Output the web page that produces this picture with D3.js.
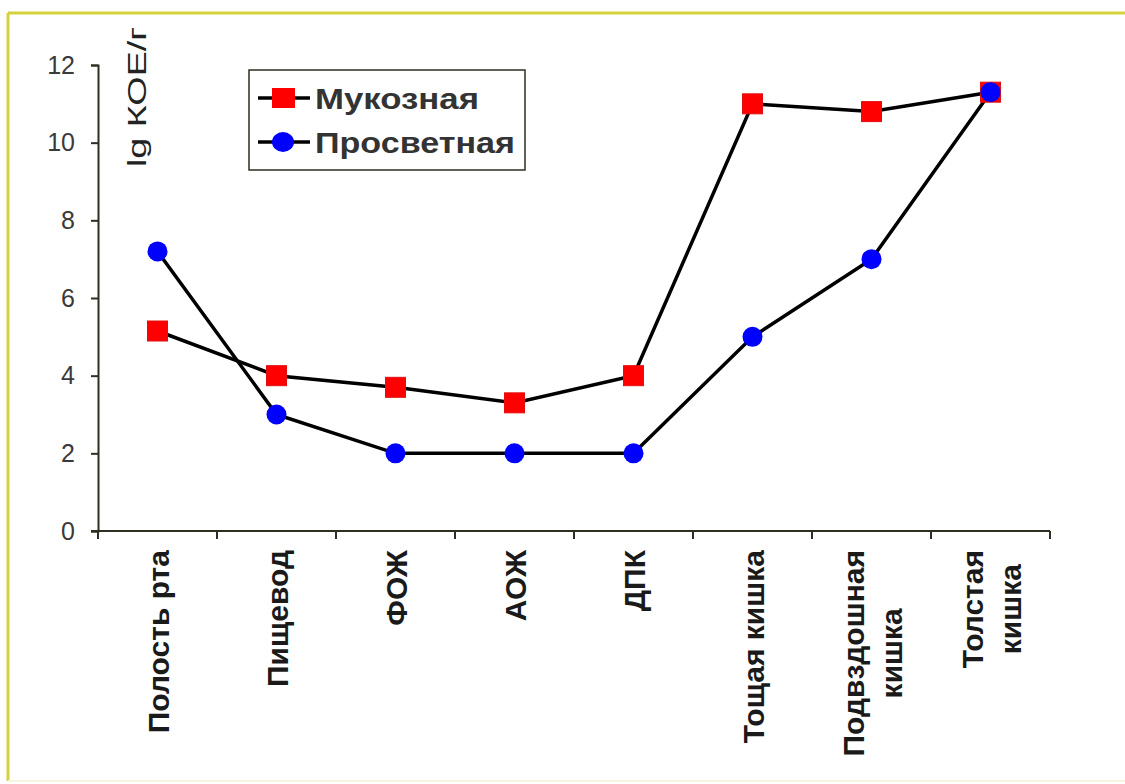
<!DOCTYPE html>
<html>
<head>
<meta charset="utf-8">
<script src="https://cdn.jsdelivr.net/npm/d3@7/dist/d3.min.js"></script>
<style>
  body { margin: 0; background: #fff; }
  text { font-family: "Liberation Sans", Arial, sans-serif; }
</style>
</head>
<body>
<script>
var width = 1125, height = 784;

// data
var categories = [["Полость рта"], ["Пищевод"], ["ФОЖ"], ["АОЖ"], ["ДПК"],
                  ["Тощая кишка"], ["Подвздошная", "кишка"], ["Толстая", "кишка"]];
var mucosal = [5.15, 4.0, 3.7, 3.3, 4.0, 11.0, 10.8, 11.3];
var luminal = [7.2, 3.0, 2.0, 2.0, 2.0, 5.0, 7.0, 11.3];
var yTicks = [0, 2, 4, 6, 8, 10, 12];
var seriesNames = ["Мукозная", "Просветная"];

var svg = d3.select("body").append("svg")
    .attr("width", width)
    .attr("height", height);

// frame
svg.append("rect").attr("x", 0).attr("y", 0).attr("width", width).attr("height", height).attr("fill", "#fff");
svg.append("line").attr("x1", 8).attr("x2", width).attr("y1", 13).attr("y2", 13)
    .attr("stroke", "#d6d23c").attr("stroke-width", 3);
svg.append("line").attr("x1", 8).attr("x2", 8).attr("y1", 13).attr("y2", 781)
    .attr("stroke", "#d6d23c").attr("stroke-width", 3);
svg.append("line").attr("x1", 8).attr("x2", width).attr("y1", 781).attr("y2", 781)
    .attr("stroke", "#f6f4dc").attr("stroke-width", 2);

var x0 = 98, x1 = 1050, yTop = 65, yBot = 531;
var axisColor = "#2e2e22";

var x = d3.scaleBand().domain(d3.range(categories.length)).range([x0, x1]);
var y = d3.scaleLinear().domain([0, 12]).range([yBot, yTop]);

// y axis
var yAxis = svg.append("g").attr("transform", "translate(" + x0 + ",0)")
    .call(d3.axisLeft(y).tickValues(yTicks).tickSize(7).tickPadding(16));
yAxis.select(".domain").attr("stroke", axisColor).attr("stroke-width", 2);
yAxis.selectAll(".tick line").attr("stroke", axisColor).attr("stroke-width", 2);
yAxis.selectAll(".tick text").attr("fill", "#3a3a3a")
    .style("font-size", "25px").style("font-family", "Liberation Sans, Arial, sans-serif");

// x axis
var xAxis = svg.append("g").attr("transform", "translate(0," + yBot + ")");
xAxis.append("line").attr("x1", x0 - 7).attr("x2", x1).attr("y1", 0).attr("y2", 0)
    .attr("stroke", axisColor).attr("stroke-width", 2);
xAxis.selectAll("line.tk").data(d3.range(categories.length + 1)).enter().append("line")
    .attr("class", "tk")
    .attr("x1", function(i) { return x0 + i * x.step(); })
    .attr("x2", function(i) { return x0 + i * x.step(); })
    .attr("y1", 0).attr("y2", 8)
    .attr("stroke", axisColor).attr("stroke-width", 2);

// category labels (rotated, multi-line blocks top aligned, lines centered)
var lineGap = 38;
categories.forEach(function(lines, i) {
    var cx = x(i) + x.bandwidth() / 2;
    var n = lines.length;
    var g = svg.append("g").attr("transform", "translate(" + cx + "," + 550 + ") rotate(-90)");
    var t = g.append("text").attr("fill", "#1a1a1a").style("font-size", "30px").style("font-weight", "bold");
    lines.forEach(function(s, j) {
        var dy = (j - (n - 1) / 2) * lineGap;
        t.append("tspan").attr("x", 0).attr("y", dy + 11).attr("text-anchor", "end").text(s);
    });
    // shorter lines centered on the longest one
    if (n > 1) {
        var widths = [];
        t.selectAll("tspan").each(function() { widths.push(this.getComputedTextLength()); });
        var w = d3.max(widths);
        t.selectAll("tspan").attr("text-anchor", "middle").attr("x", -w / 2);
    }
});

// y axis title
svg.append("text")
    .attr("transform", "translate(146,167) rotate(-90)")
    .attr("fill", "#222")
    .attr("textLength", 140).attr("lengthAdjust", "spacingAndGlyphs")
    .style("font-size", "25px")
    .text("lg КОЕ/г");

// lines
var line = d3.line()
    .x(function(d, i) { return x(i) + x.bandwidth() / 2; })
    .y(function(d) { return y(d); });

svg.append("path").datum(mucosal).attr("d", line)
    .attr("fill", "none").attr("stroke", "#000").attr("stroke-width", 3.5);
svg.append("path").datum(luminal).attr("d", line)
    .attr("fill", "none").attr("stroke", "#000").attr("stroke-width", 3.5);

svg.selectAll("rect.muc").data(mucosal).enter().append("rect")
    .attr("class", "muc")
    .attr("x", function(d, i) { return x(i) + x.bandwidth() / 2 - 10; })
    .attr("y", function(d) { return y(d) - 10; })
    .attr("width", 20).attr("height", 20)
    .attr("fill", "#ff0000").attr("stroke", "#e01010").attr("stroke-width", 1);

svg.selectAll("circle.lum").data(luminal).enter().append("circle")
    .attr("class", "lum")
    .attr("cx", function(d, i) { return x(i) + x.bandwidth() / 2; })
    .attr("cy", function(d) { return y(d); })
    .attr("r", 10)
    .attr("fill", "#0000ff");

// legend
var lg = svg.append("g");
lg.append("rect").attr("x", 249).attr("y", 70).attr("width", 276).attr("height", 100)
    .attr("fill", "#fff").attr("stroke", axisColor).attr("stroke-width", 1.5);
var rowsY = [98, 142];
seriesNames.forEach(function(name, i) {
    var yy = rowsY[i];
    lg.append("line").attr("x1", 258).attr("x2", 310).attr("y1", yy).attr("y2", yy)
        .attr("stroke", "#000").attr("stroke-width", 3.5);
    if (i === 0) {
        lg.append("rect").attr("x", 272).attr("y", yy - 10).attr("width", 23).attr("height", 20)
            .attr("fill", "#ff0000");
    } else {
        lg.append("ellipse").attr("cx", 283).attr("cy", yy).attr("rx", 11).attr("ry", 10)
            .attr("fill", "#0000ff");
    }
    lg.append("text").attr("x", 315).attr("y", yy + 11)
        .attr("fill", "#333")
        .attr("textLength", i === 0 ? 164 : 200).attr("lengthAdjust", "spacingAndGlyphs")
        .style("font-size", "29px").style("font-weight", "bold")
        .text(name);
});
</script>
</body>
</html>
